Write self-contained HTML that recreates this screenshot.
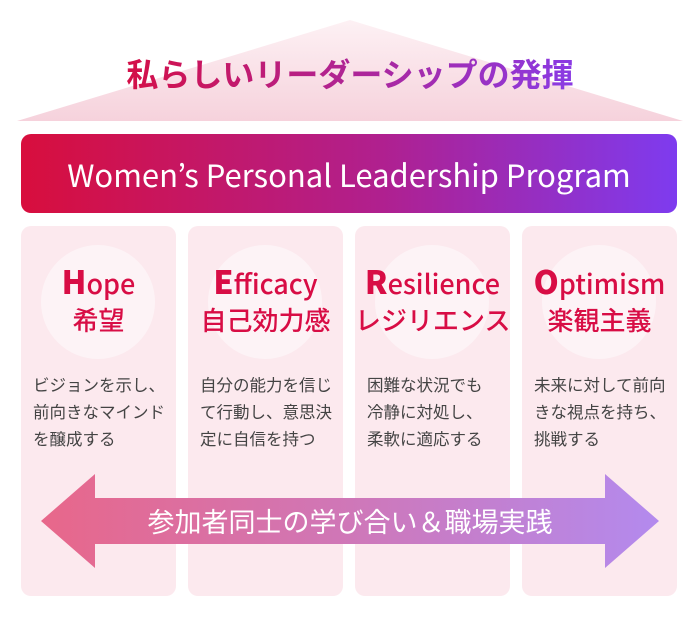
<!DOCTYPE html>
<html><head><meta charset="utf-8"><style>
body{margin:0;width:700px;height:620px;background:#fff;position:relative;overflow:hidden;font-family:"Liberation Sans","Noto Sans CJK JP",sans-serif}
.t{position:absolute;left:0;width:700px;top:50px;text-align:center;font-size:32px;font-weight:bold;line-height:46px}
.t span{background:linear-gradient(90deg,#d40f47,#8a3ae4);-webkit-background-clip:text;background-clip:text;color:transparent;font-family:"Noto Sans CJK JP",sans-serif}
.ban{position:absolute;left:21px;top:134px;width:656px;height:79px;border-radius:10px;background:linear-gradient(90deg,#d80e3d,#b0208f 55%,#7e3bef);color:#fff;font-size:31px;text-align:center;line-height:79px;font-family:"Noto Sans CJK JP",sans-serif}
.col{position:absolute;top:226px;width:155px;height:370px;background:#fce9ee;border-radius:10px}
.c{position:absolute;left:20px;top:19px;width:114px;height:114px;border-radius:50%;background:#fdf3f6}
.h{position:absolute;left:0;width:155px;text-align:center;color:#d80d45;font-family:"Noto Sans CJK JP",sans-serif;font-weight:500;white-space:nowrap}
.h1{top:35px;font-size:27px;line-height:40px}
.h1 b{font-size:32px;font-weight:900}
.h2{top:75px;font-size:26px;line-height:38px}
.b{position:absolute;left:12px;top:145px;width:150px;font-size:16.5px;line-height:27px;color:#444;font-family:"Noto Sans CJK JP",sans-serif;white-space:nowrap}
.at{position:absolute;left:0;width:700px;top:499px;text-align:center;color:#fff;font-size:27px;line-height:44px;font-family:"Noto Sans CJK JP",sans-serif}
</style></head><body>
<svg width="700" height="620" style="position:absolute;left:0;top:0">
<defs><linearGradient id="r" x1="0" y1="0" x2="0" y2="1"><stop offset="0" stop-color="#fdf1f4"/><stop offset="1" stop-color="#f6d2dc"/></linearGradient></defs>
<polygon points="350,20 683,121 17,121" fill="url(#r)"/>
</svg>
<div class="t"><span>私らしいリーダーシップの発揮</span></div>
<div class="ban">Women’s Personal Leadership Program</div>
<div class="col" style="left:21px"><div class="c"></div><div class="h h1"><b>H</b>ope</div><div class="h h2">希望</div><div class="b">ビジョンを示し、<br>前向きなマインド<br>を醸成する</div></div>
<div class="col" style="left:188px"><div class="c"></div><div class="h h1"><b>E</b>fficacy</div><div class="h h2">自己効力感</div><div class="b">自分の能力を信じ<br>て行動し、意思決<br>定に自信を持つ</div></div>
<div class="col" style="left:355px"><div class="c"></div><div class="h h1"><b>R</b>esilience</div><div class="h h2">レジリエンス</div><div class="b">困難な状況でも<br>冷静に対処し、<br>柔軟に適応する</div></div>
<div class="col" style="left:522px"><div class="c"></div><div class="h h1"><b>O</b>ptimism</div><div class="h h2">楽観主義</div><div class="b">未来に対して前向<br>きな視点を持ち、<br>挑戦する</div></div>
<svg width="700" height="620" style="position:absolute;left:0;top:0">
<defs><linearGradient id="a" x1="0" y1="0" x2="1" y2="0"><stop offset="0" stop-color="#e8678a"/><stop offset="0.5" stop-color="#cf77b8"/><stop offset="1" stop-color="#b38aee"/></linearGradient></defs>
<polygon points="41,521 95,474 95,498 605,498 605,474 659,521 605,568 605,544 95,544 95,568" fill="url(#a)"/>
</svg>
<div class="at">参加者同士の学び合い＆職場実践</div>
</body></html>
